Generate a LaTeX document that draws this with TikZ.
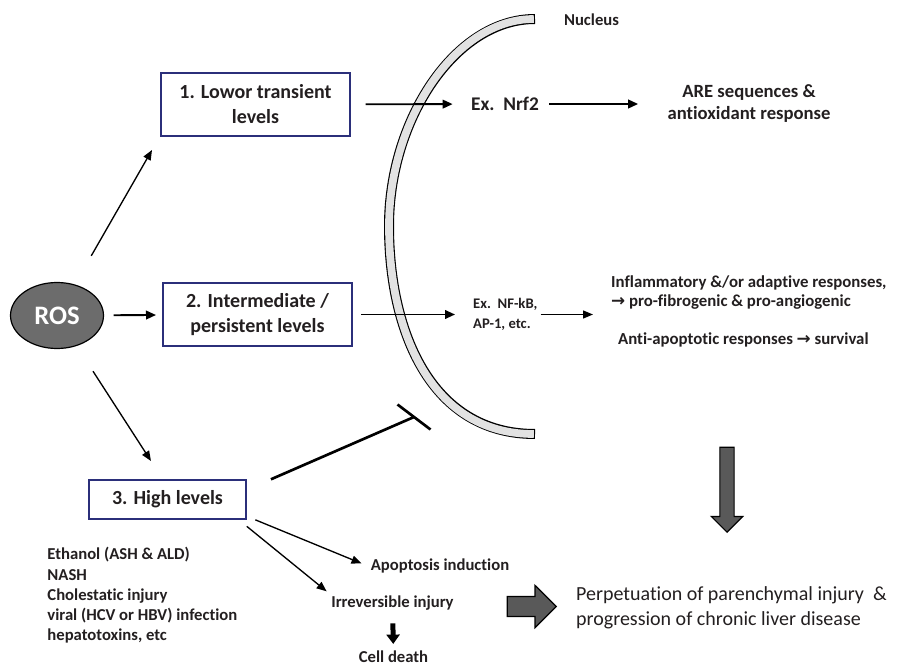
\documentclass[tikz,border=0pt]{standalone}
\usepackage{fontspec}
\setmainfont{Carlito}[Ligatures={NoCommon}]
\newfontfamily\arrowfont{DejaVu Sans}
\usetikzlibrary{arrows.meta,shapes.geometric,shapes.arrows}

\newcommand{\rarr}{{\arrowfont\bfseries →}}

\tikzset{every picture/.style={line width=0.75pt}}
\tikzset{
  lvlbox/.style={draw={rgb, 255:red, 43; green, 47; blue, 122}, line width=1.5pt, inner sep=0pt, align=center,
    text={rgb, 255:red, 35; green, 31; blue, 32}, font=\fontsize{15}{18.75}\selectfont\bfseries},
  lbl/.style={inner sep=2pt, text={rgb, 255:red, 35; green, 31; blue, 32}, font=\fontsize{12.5}{15.2}\selectfont\bfseries},
  arr/.style={-{Triangle[length=7.5pt,width=6.5pt]}, line width=1.4pt},
  arrthin/.style={-{Triangle[length=7.5pt,width=6pt]}, line width=1pt},
  inh/.style={line width=2pt},
  fatarr/.style={single arrow, draw, line width=0.9pt, fill={rgb, 255:red, 89; green, 89; blue, 89}, inner xsep=0pt,
    single arrow head indent=0pt, single arrow tip angle=90},
}

\begin{document}
\begin{tikzpicture}[x=0.75pt,y=0.75pt,yscale=-1,xscale=1]
\useasboundingbox (0,0) rectangle (897,667);

%Shape: Arc [nucleus envelope]
\draw [line width=7.5pt]   (535,19) .. controls (455,19) and (389,120) .. (389,226) .. controls (389,330) and (430,434) .. (535,434) ;
\draw [color={rgb, 255:red, 226; green, 226; blue, 226 }, line width=5.8pt, shorten <=0.9pt, shorten >=0.9pt]   (535,19) .. controls (455,19) and (389,120) .. (389,226) .. controls (389,330) and (430,434) .. (535,434) ;

%Shape: Ellipse [ROS]
\node [ellipse, draw, line width=0.9pt, fill={rgb, 255:red, 108; green, 108; blue, 108}, minimum width=69.75pt, minimum height=49.5pt, inner sep=0pt, text=white, font=\fontsize{20}{24}\selectfont\bfseries] (ros) at (57,315.5) {ROS};

%Shape: Rectangle [levels]
\node [lvlbox, minimum width=141.75pt, minimum height=47.25pt] (lvl1) at (255.5,104.5) {1. Lowor transient\\levels};
\node [lvlbox, minimum width=141.75pt, minimum height=47.25pt] (lvl2) at (257.5,314.5) {2. Intermediate /\\persistent levels};
\node [lvlbox, minimum width=117.75pt, minimum height=29.25pt] (lvl3) at (167.5,499.5) {3. High levels};

% Text Node
\node [lbl] (nuc) at (591.5,20) {Nucleus};
\node [lbl, font=\fontsize{14.5}{17}\selectfont\bfseries] (nrf) at (505,104) {Ex.\ \ Nrf2};
\node [lbl, font=\fontsize{14}{16.5}\selectfont\bfseries, align=center] (are) at (749,104) {ARE sequences \&\\antioxidant response};
\node [lbl, font=\fontsize{11}{15.5}\selectfont\bfseries, align=left, anchor=west] (nfkb) at (470,314.5) {Ex.\ \ NF-kB,\\AP-1, etc.};
\node [lbl, font=\fontsize{12.6}{14.25}\selectfont\bfseries, align=left, anchor=west] (infl) at (608,292.5) {Inflammatory \&/or adaptive responses,\\\rarr{} pro-fibrogenic \& pro-angiogenic};
\node [lbl, font=\fontsize{12.6}{14.25}\selectfont\bfseries, anchor=west] (anti) at (615,340) {Anti-apoptotic responses \rarr{} survival};
\node [lbl, align=left, anchor=west] (etio) at (44.3,595.5) {Ethanol (ASH \& ALD)\\NASH\\Cholestatic injury\\viral (HCV or HBV) infection\\hepatotoxins, etc};
\node [lbl] (apop) at (440,566) {Apoptosis induction};
\node [lbl] (irrev) at (392.5,603) {Irreversible injury};
\node [lbl] (death) at (393.5,657) {Cell death};
\node [lbl, font=\fontsize{15}{18.75}\selectfont, align=left, anchor=west] (perp) at (573,608) {Perpetuation of parenchymal injury\ \ \&\\progression of chronic liver disease};

%Shape: Block arrows
\node [fatarr, rotate=-90, inner ysep=4.9pt, minimum height=63.75pt, single arrow head extend=6.4pt, anchor=tip] (downarr) at (727,533) {};
\node [fatarr, inner ysep=7.1pt, minimum height=36.75pt, single arrow head extend=8.25pt, anchor=tip] (rightarr) at (557,606.5) {};

%Straight Lines [arrows]
\coordinate (tip1) at (152,150);
\coordinate (tip3) at (151,461);
\coordinate (blk) at (414,417);
\draw [arrthin, shorten <=24.7pt] (ros) -- (tip1) ;
\draw [arr, shorten <=7.1pt, shorten >=4.5pt] (ros) -- (lvl2) ;
\draw [arrthin, shorten <=22.5pt] (ros) -- (tip3) ;
\draw [arr, shorten <=11pt, shorten >=11.5pt] (lvl1) -- (nrf) ;
\draw [arr, shorten <=5.5pt, shorten >=19.7pt] (nrf) -- (are) ;
\draw [arr, shorten <=6pt, shorten >=11.25pt] (lvl2) -- (nfkb) ;
\draw [arrthin, shorten >=11.25pt] (nfkb.east) -- (infl.west |- nfkb.east) ;
\draw [arrthin, shorten <=6.75pt, shorten >=5pt] (lvl3.-12) -- (apop.west) ;
\draw [arrthin, shorten <=7.5pt, shorten >=1.5pt] (lvl3.-16) -- (irrev.north west) ;
\draw [-{Triangle[length=7pt,width=9.75pt]}, line width=3.75pt, shorten <=7.5pt, shorten >=3pt] (irrev) -- (death) ;

%Straight Lines [inhibition]
\draw [inh, shorten <=19.6pt] (lvl3.7) -- (blk) ;
\draw [inh] (blk) ++(-16.5,-12.5) -- ++(33,25) ;

\end{tikzpicture}
\end{document}
